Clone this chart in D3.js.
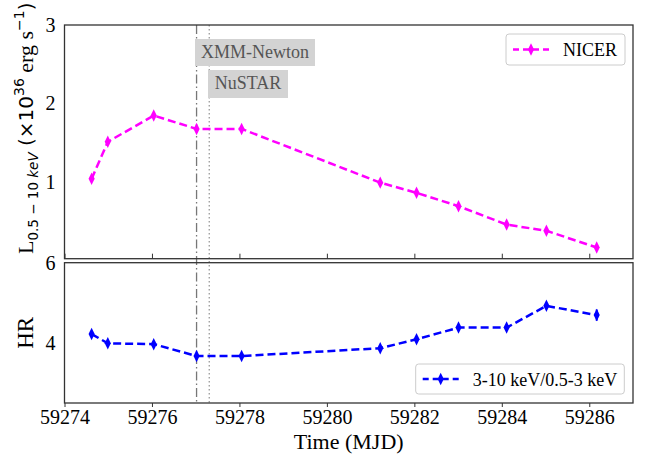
<!DOCTYPE html>
<html>
<head>
<meta charset="utf-8">
<script src="https://cdn.jsdelivr.net/npm/d3@7"></script>
<style>
  body { margin: 0; background: white; }
  text { font-family: "Liberation Serif", "Times New Roman", serif; }
</style>
</head>
<body>
<div id="graf"></div>
<script>
// Datos
const tiempos = [59274.62, 59274.99, 59276.04, 59277.02, 59278.05, 59281.22, 59282.05, 59283.01, 59284.11, 59285.02, 59286.17]
const lum = [1.04, 1.51, 1.845, 1.675, 1.675, 0.99, 0.86, 0.69, 0.455, 0.376, 0.163]
const lumErr = [0.02, 0.02, 0.02, 0.02, 0.02, 0.02, 0.02, 0.02, 0.02, 0.02, 0.02]
const hr = [4.23, 4.0, 3.98, 3.685, 3.685, 3.88, 4.1, 4.39, 4.39, 4.93, 4.70]
const hrErr = [0.08, 0.03, 0.03, 0.03, 0.03, 0.03, 0.04, 0.04, 0.04, 0.05, 0.14]
const xTicks = [59274, 59276, 59278, 59280, 59282, 59284, 59286]
const yTopTicks = [1, 2, 3]
const yBotTicks = [4, 6]
const obsXMM = 59277.02
const obsNuSTAR = 59277.31

// Dimensiones
const anchoTotal = 649
const altoTotal = 461
const izq = 64.5, der = 633
const top1 = 25, bot1 = 258.7
const top2 = 262.7, bot2 = 403

const svg = d3.select('#graf').append('svg')
    .attr('width', anchoTotal)
    .attr('height', altoTotal)

// Escaladores
const x = d3.scaleLinear().domain([59274, 59287]).range([izq, der])
const yTop = d3.scaleLinear().domain([0.02, 3]).range([bot1, top1])
const yBot = d3.scaleLinear().domain([2.52, 6]).range([bot2, top2])

const datos = tiempos.map((t, i) => ({ t, l: lum[i], le: lumErr[i], h: hr[i], he: hrErr[i] }))

// Marcos
const panel = (y0, y1) => svg.append('rect')
    .attr('x', izq).attr('y', y0)
    .attr('width', der - izq).attr('height', y1 - y0)
    .attr('fill', 'white')
panel(top1, bot1)
panel(top2, bot2)

// Lineas verticales de observaciones
svg.append('line')
    .attr('x1', x(obsXMM)).attr('x2', x(obsXMM))
    .attr('y1', top1).attr('y2', bot2)
    .attr('stroke', '#777').attr('stroke-width', 1.3)
    .attr('stroke-dasharray', '9,3,1.5,3')
svg.append('line')
    .attr('x1', x(obsNuSTAR)).attr('x2', x(obsNuSTAR))
    .attr('y1', top1).attr('y2', bot2)
    .attr('stroke', '#999').attr('stroke-width', 1.3)
    .attr('stroke-dasharray', '1.5,2.5')

// Etiquetas de observaciones
const caja = (txt, x0, y0, w, h, base) => {
    svg.append('rect').attr('x', x0).attr('y', y0).attr('width', w).attr('height', h)
        .attr('fill', '#d3d3d3')
    svg.append('text').attr('x', x0 + w / 2).attr('y', base)
        .attr('text-anchor', 'middle')
        .style('font-size', '18px').attr('fill', '#555')
        .text(txt)
}
caja('XMM-Newton', 195, 39, 120, 27, 58)
caja('NuSTAR', 208, 70, 80, 28, 89)

// Series
const dibujar = (yScale, acc, err, color) => {
    const line = d3.line().x(d => x(d.t)).y(d => yScale(acc(d)))
    svg.append('path').datum(datos)
        .attr('d', line)
        .attr('fill', 'none')
        .attr('stroke', color)
        .attr('stroke-width', 2.5)
        .attr('stroke-dasharray', '8,4')
    svg.append('g').selectAll('line').data(datos).join('line')
        .attr('x1', d => x(d.t)).attr('x2', d => x(d.t))
        .attr('y1', d => yScale(acc(d) - err(d))).attr('y2', d => yScale(acc(d) + err(d)))
        .attr('stroke', color).attr('stroke-width', 2)
    svg.append('g').selectAll('path').data(datos).join('path')
        .attr('d', d3.symbol(d3.symbolDiamond, 45))
        .attr('transform', d => `translate(${x(d.t)},${yScale(acc(d))}) scale(0.85,1)`)
        .attr('fill', color)
}
dibujar(yTop, d => d.l, d => d.le, '#ff00ff')
dibujar(yBot, d => d.h, d => d.he, '#0000ff')

// Bordes
const borde = (y0, y1) => svg.append('rect')
    .attr('x', izq).attr('y', y0)
    .attr('width', der - izq).attr('height', y1 - y0)
    .attr('fill', 'none').attr('stroke', '#333').attr('stroke-width', 1.3)
borde(top1, bot1)
borde(top2, bot2)

// Ejes
const estilo = g => {
    g.select('.domain').remove()
    g.selectAll('line').attr('stroke', '#333')
    g.selectAll('text').style('font-size', '20px').style('font-family', '"Liberation Serif", serif').attr('fill', 'black')
}
svg.append('g').attr('transform', `translate(0,${bot1})`)
    .call(d3.axisBottom(x).tickValues(xTicks).tickSize(-5).tickFormat(''))
    .call(estilo)
svg.append('g').attr('transform', `translate(0,${bot2})`)
    .call(d3.axisBottom(x).tickValues(xTicks).tickSize(4).tickPadding(3).tickFormat(d3.format('d')))
    .call(estilo)
svg.append('g').attr('transform', `translate(${izq},0)`)
    .call(d3.axisLeft(yTop).tickValues(yTopTicks).tickSize(0).tickPadding(9).tickFormat(d3.format('d')))
    .call(estilo)
svg.append('g').attr('transform', `translate(${izq},0)`)
    .call(d3.axisLeft(yBot).tickValues(yBotTicks).tickSize(0).tickPadding(9).tickFormat(d3.format('d')))
    .call(estilo)

// Titulos de ejes
svg.append('text')
    .attr('x', (izq + der) / 2).attr('y', 449)
    .attr('text-anchor', 'middle')
    .style('font-size', '22px')
    .text('Time (MJD)')

svg.append('text')
    .attr('transform', `translate(33,${(top2 + bot2) / 2}) rotate(-90)`)
    .attr('text-anchor', 'middle')
    .style('font-size', '23px')
    .text('HR')

const yl = svg.append('text')
    .attr('transform', 'translate(33,254) rotate(-90)')
    .style('font-size', '22px')
yl.append('tspan').text('L')
yl.append('tspan').attr('dy', 5).style('font-family', '"DejaVu Sans"').style('font-size', '13.5px').text('0.5 − 10 ')
yl.append('tspan').style('font-family', '"DejaVu Sans"').style('font-size', '13.5px').style('font-style', 'italic').text('keV')
yl.append('tspan').attr('dy', -5).style('font-family', '"DejaVu Sans"').style('font-size', '20px').text(' (×10')
yl.append('tspan').attr('dy', -9).style('font-family', '"DejaVu Sans"').style('font-size', '14px').text('36')
yl.append('tspan').attr('dy', 9).text(' erg s')
yl.append('tspan').attr('dy', -9).style('font-family', '"DejaVu Sans"').style('font-size', '14px').text('−1')
yl.append('tspan').attr('dy', 9).style('font-family', '"DejaVu Sans"').style('font-size', '20px').text(')')

// Leyendas
const leyenda = (x0, y0, w, h, color, txt) => {
    const g = svg.append('g')
    g.append('rect').attr('x', x0).attr('y', y0).attr('width', w).attr('height', h)
        .attr('rx', 3).attr('fill', 'white').attr('stroke', '#ccc').attr('stroke-width', 1)
    const ym = y0 + h / 2
    g.append('line').attr('x1', x0 + 7).attr('x2', x0 + 43).attr('y1', ym).attr('y2', ym)
        .attr('stroke', color).attr('stroke-width', 2.5).attr('stroke-dasharray', '6,4')
    g.append('path').attr('d', d3.symbol(d3.symbolDiamond, 45))
        .attr('transform', `translate(${x0 + 25},${ym}) scale(0.85,1)`).attr('fill', color)
    g.append('text').attr('x', x0 + 57).attr('y', ym + 6.5)
        .style('font-size', '18px').text(txt)
}
leyenda(506, 34, 119, 31, '#ff00ff', 'NICER')
leyenda(415.7, 364, 208.6, 30, '#0000ff', '3-10 keV/0.5-3 keV')
</script>
</body>
</html>
